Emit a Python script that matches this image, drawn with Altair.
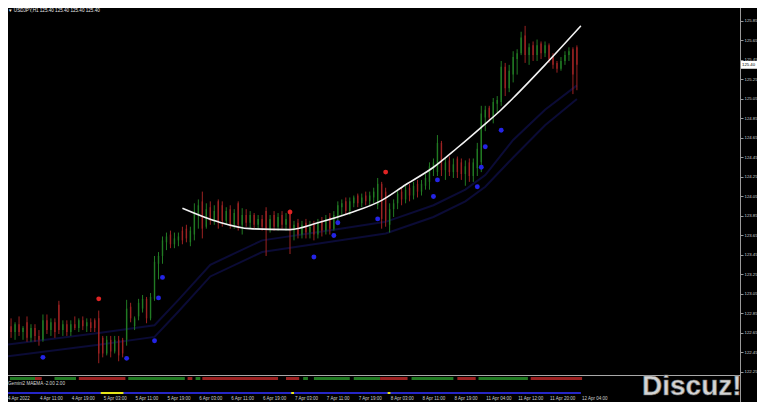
import altair as alt
import pandas as pd

# ---------------- data ----------------
OPEN = [122.68,122.72,122.66,122.74,122.66,122.76,122.60,122.70,122.62,122.58,
        122.78,122.68,122.76,122.94,122.68,122.74,122.66,122.74,122.70,122.78,
        122.72,122.76,122.78,122.80,122.60,122.44,122.58,122.46,122.58,122.58,
        122.58,122.92,122.72,122.82,122.90,123.00,122.80,123.00,123.36,123.44,
        123.58,123.66,123.56,123.60,123.70,123.72,123.58,123.66,123.86,124.00,
        123.74,123.94,123.80,124.00,123.96,123.80,123.92,123.76,123.98,123.76,
        123.86,123.78,123.86,123.76,123.82,123.90,123.72,123.86,123.74,123.86,
        123.76,123.90,123.70,123.78,123.66,123.78,123.68,123.76,123.66,123.80,
        123.70,123.84,123.72,123.84,123.94,124.00,123.90,123.98,124.06,123.98,
        124.06,124.00,124.04,123.96,124.18,124.10,123.76,123.92,123.98,124.10,
        124.02,124.14,124.06,124.18,124.10,124.16,124.20,124.34,124.30,124.60,
        124.32,124.42,124.30,124.44,124.40,124.28,124.40,124.26,124.34,124.40,
        124.86,124.96,124.86,125.00,125.02,125.38,125.16,125.30,125.46,125.52,
        125.70,125.50,125.60,125.50,125.62,125.52,125.60,125.48,125.42,125.36,
        125.44,125.50,125.56,125.58]
HIGH = [122.78,122.80,122.76,122.82,122.72,122.82,122.74,122.74,122.68,122.84,
        122.84,122.80,122.80,122.98,122.78,122.78,122.78,122.82,122.80,122.82,
        122.80,122.80,122.80,122.88,122.62,122.62,122.62,122.62,122.62,122.60,
        122.99,122.96,122.82,123.00,123.04,123.02,123.06,123.44,123.48,123.64,
        123.68,123.70,123.68,123.68,123.74,123.76,123.74,123.98,124.02,124.10,
        123.98,124.00,123.96,124.02,124.00,123.94,123.96,123.92,124.00,123.93,
        123.92,123.90,123.88,123.86,123.86,123.94,123.86,123.90,123.88,123.90,
        123.88,123.92,123.80,123.82,123.80,123.82,123.80,123.80,123.82,123.84,
        123.86,123.88,123.90,124.00,124.02,124.04,124.04,124.06,124.08,124.08,
        124.10,124.10,124.14,124.24,124.20,124.14,123.98,124.02,124.12,124.14,
        124.16,124.18,124.20,124.22,124.22,124.28,124.40,124.44,124.68,124.62,
        124.44,124.46,124.44,124.46,124.44,124.42,124.44,124.44,124.60,124.98,
        124.98,124.98,125.06,125.08,125.44,125.42,125.40,125.54,125.56,125.74,
        125.80,125.62,125.64,125.66,125.64,125.64,125.62,125.52,125.44,125.48,
        125.54,125.58,125.58,125.60]
LOW = [122.62,122.60,122.58,122.62,122.58,122.56,122.56,122.56,122.52,122.56,
       122.64,122.62,122.60,122.64,122.62,122.62,122.62,122.68,122.66,122.68,
       122.66,122.66,122.66,122.34,122.40,122.42,122.40,122.44,122.36,122.40,
       122.52,122.76,122.68,122.78,122.86,122.75,122.78,122.98,123.20,123.36,
       123.50,123.52,123.52,123.54,123.56,123.58,123.54,123.60,123.72,123.62,
       123.72,123.76,123.76,123.72,123.74,123.76,123.72,123.72,123.70,123.66,
       123.74,123.72,123.72,123.72,123.70,123.44,123.68,123.70,123.70,123.72,
       123.70,123.46,123.60,123.62,123.62,123.62,123.62,123.60,123.62,123.64,
       123.66,123.66,123.70,123.78,123.86,123.86,123.86,123.94,123.94,123.94,
       123.96,123.96,123.98,123.92,123.72,123.74,123.68,123.84,123.92,123.96,
       123.98,124.00,124.02,124.04,124.06,124.12,124.12,124.26,124.26,124.26,
       124.22,124.26,124.24,124.24,124.22,124.16,124.20,124.20,124.26,124.30,
       124.72,124.82,124.80,124.90,124.98,125.08,125.12,125.22,125.30,125.50,
       125.42,125.40,125.44,125.44,125.46,125.48,125.42,125.36,125.32,125.34,
       125.40,125.44,125.10,125.14]
CLOSE = [122.72,122.66,122.74,122.66,122.70,122.60,122.70,122.62,122.58,122.78,
         122.68,122.76,122.66,122.68,122.74,122.66,122.74,122.70,122.78,122.72,
         122.76,122.70,122.70,122.44,122.44,122.58,122.46,122.58,122.42,122.44,
         122.90,122.80,122.80,122.96,123.00,122.80,123.02,123.38,123.44,123.60,
         123.64,123.56,123.62,123.64,123.60,123.62,123.70,123.90,123.96,123.72,
         123.92,123.80,123.90,123.78,123.80,123.90,123.76,123.88,123.76,123.86,
         123.78,123.86,123.76,123.82,123.74,123.72,123.82,123.74,123.84,123.76,
         123.82,123.72,123.76,123.66,123.76,123.68,123.74,123.66,123.78,123.70,
         123.82,123.72,123.86,123.96,123.98,123.90,124.00,124.04,123.98,124.04,
         124.00,124.06,124.10,124.18,123.82,123.80,123.92,123.98,124.08,124.02,
         124.12,124.06,124.16,124.10,124.18,124.24,124.36,124.40,124.60,124.32,
         124.40,124.30,124.38,124.30,124.28,124.36,124.26,124.40,124.54,124.90,
         124.94,124.86,125.02,125.04,125.38,125.16,125.34,125.48,125.52,125.68,
         125.50,125.58,125.50,125.60,125.52,125.60,125.46,125.40,125.36,125.44,
         125.50,125.54,125.30,125.40]

BUY_IDX = [9, 30, 37, 38, 39, 77, 82, 83, 93, 107, 108, 118, 119, 120, 124]
BUY_PRICE = [122.40, 122.39, 122.57, 123.01, 123.22, 123.43, 123.65, 123.78,
             123.82, 124.05, 124.22, 124.15, 124.35, 124.56, 124.73]
SELL_IDX = [23, 71, 95]
SELL_PRICE = [123.00, 123.89, 124.30]

CURVE_IDX = [44, 53, 61, 71, 78, 86, 94, 100, 107, 113, 119, 124, 127, 135, 144]
CURVE_PRICE = [123.93, 123.79, 123.72, 123.71, 123.78, 123.88, 124.01, 124.17,
               124.35, 124.55, 124.76, 124.94, 125.06, 125.40, 125.80]

BAND_IDX = [0, 23, 37, 43, 51, 64, 82, 95, 107, 115, 120, 127, 135, 143]
BAND_UP = [122.53, 122.65, 122.73, 122.99, 123.35, 123.60, 123.71, 123.79,
           123.96, 124.12, 124.27, 124.63, 124.94, 125.19]
BAND_LO = [122.41, 122.53, 122.61, 122.87, 123.23, 123.48, 123.59, 123.67,
           123.84, 124.00, 124.15, 124.45, 124.78, 125.05]

SEG_START = [0.7, 7.0, 11.9, 18.0, 30.4, 45.3, 47.3, 49.0, 70.0, 74.3, 77.0, 87.0, 93.6, 101.5, 113.0, 118.3, 131.4]
SEG_END = [7.0, 8.7, 17.3, 29.7, 44.6, 46.5, 48.5, 68.0, 73.3, 75.5, 86.0, 93.6, 100.5, 112.0, 117.6, 130.7, 144.3]
SEG_DIR = ["up", "down", "up", "down", "up", "down", "up", "down", "down", "up", "up", "up",
           "down", "up", "down", "up", "down"]

YEL_START = [23.5, 71.3, 95.5]
YEL_END = [29.2, 72.0, 96.2]

TIME_IDX = list(range(0, 145, 8))
TIME_LABELS = ["4 Apr 2022", "4 Apr 11:00", "4 Apr 19:00", "5 Apr 03:00", "5 Apr 11:00",
               "5 Apr 19:00", "6 Apr 03:00", "6 Apr 11:00", "6 Apr 19:00", "7 Apr 03:00",
               "7 Apr 11:00", "7 Apr 19:00", "8 Apr 03:00", "8 Apr 11:00", "8 Apr 19:00",
               "11 Apr 04:00", "11 Apr 12:00", "11 Apr 20:00", "12 Apr 04:00"]

PRICE_TICKS = [122.25, 122.45, 122.65, 122.85, 123.05, 123.25, 123.45, 123.65, 123.85,
               124.05, 124.25, 124.45, 124.65, 124.85, 125.05, 125.25, 125.45, 125.65, 125.85]
LAST_PRICE = 125.40
TITLE = "\u25bc USDJPY,H1  125.40 125.40 125.40 125.40"
IND_LABEL = "Gemini2 MAEMA -2.00 2.00"

# ---------------- tables ----------------
candles = pd.DataFrame({"i": list(range(len(CLOSE))), "o": OPEN, "h": HIGH, "l": LOW, "c": CLOSE})
candles["dir"] = ["up" if c >= o else "down" for o, c in zip(OPEN, CLOSE)]
buys = pd.DataFrame({"i": BUY_IDX, "p": BUY_PRICE})
sells = pd.DataFrame({"i": SELL_IDX, "p": SELL_PRICE})
curve = pd.DataFrame({"i": CURVE_IDX, "p": CURVE_PRICE})
bands = pd.DataFrame({"i": BAND_IDX * 2, "p": BAND_UP + BAND_LO,
                      "b": ["up"] * len(BAND_IDX) + ["lo"] * len(BAND_IDX)})
segs = pd.DataFrame({"s": SEG_START, "e": SEG_END, "dir": SEG_DIR})
yel = pd.DataFrame({"s": YEL_START, "e": YEL_END})
times = pd.DataFrame({"i": TIME_IDX, "t": TIME_LABELS})
last = pd.DataFrame({"p": [LAST_PRICE], "t": [f"{LAST_PRICE:.2f}"],
                     "top": [LAST_PRICE + 0.04], "bot": [LAST_PRICE - 0.04]})
blue = pd.DataFrame({"s": [0], "e": [144]})

W, H = 732, 394
xscale = alt.Scale(domain=[1.485, 182.67], nice=False, zero=False)
yscale = alt.Scale(domain=[122.2192, 125.9833], range=[367, 0], nice=False, zero=False)
yaxis = alt.Axis(orient="right", values=PRICE_TICKS, format=".2f", title=None,
                 labelFontSize=4.3, labelColor="#cfcfcf", labelFont="Liberation Sans",
                 tickSize=3, tickColor="#9a9a9a", domainColor="#9a9a9a",
                 labelPadding=1, grid=False, labelBound=False, labelFlush=False)
dir_color = alt.Color("dir:N", scale=alt.Scale(domain=["up", "down"],
                                               range=["#217a23", "#9c2222"]), legend=None)


def X(f):
    return alt.X(f, type="quantitative", scale=xscale, axis=None)


def Y(f):
    return alt.Y(f, type="quantitative", scale=yscale, axis=yaxis)


band_layer = alt.Chart(bands).mark_line(strokeWidth=2, color="#0b0b36", clip=True).encode(
    x=X("i"), y=Y("p"), detail="b:N")
wicks = alt.Chart(candles).mark_rule(strokeWidth=1, clip=True).encode(
    x=X("i"), y=Y("l"), y2="h", color=dir_color)
bodies = alt.Chart(candles).mark_bar(size=1.4, clip=True).encode(
    x=X("i"), y=Y("o"), y2="c", color=dir_color)
curve_layer = alt.Chart(curve).mark_line(strokeWidth=1.6, color="#f2f2f2",
                                         interpolate="monotone", clip=True).encode(
    x=X("i"), y=Y("p"))
buy_layer = alt.Chart(buys).mark_circle(size=24, color="#2424e6", opacity=1).encode(
    x=X("i"), y=Y("p"))
sell_layer = alt.Chart(sells).mark_circle(size=24, color="#e02424", opacity=1).encode(
    x=X("i"), y=Y("p"))

sep = alt.Chart(blue).mark_rule(color="#a8a8a8", strokeWidth=1).encode(
    x=alt.value(0), x2=alt.value(W), y=alt.value(367.5))
vaxis = alt.Chart(blue).mark_rule(color="#9a9a9a", strokeWidth=1).encode(
    x=alt.value(W + 0.5), y=alt.value(0), y2=alt.value(H))
seg_layer = alt.Chart(segs).mark_rule(strokeWidth=3).encode(
    x=X("s"), x2="e", y=alt.value(370.5),
    color=alt.Color("dir:N", scale=alt.Scale(domain=["up", "down"],
                                             range=["#3cbc3c", "#b82a2a"]), legend=None))
blue_line = alt.Chart(blue).mark_rule(strokeWidth=2, color="#2626c8").encode(
    x=X("s"), x2="e", y=alt.value(385))
yel_layer = alt.Chart(yel).mark_rule(strokeWidth=2, color="#e6e619").encode(
    x=X("s"), x2="e", y=alt.value(385))
time_layer = alt.Chart(times).mark_text(align="left", baseline="middle", fontSize=4.5,
                                        font="Liberation Sans", color="#cfcfcf", dx=1).encode(
    x=X("i"), y=alt.value(390.5), text="t:N")
box = alt.Chart(last).mark_rect(color="#ffffff").encode(
    x=alt.value(W + 1), x2=alt.value(W + 17), y=Y("top"), y2="bot")
box_text = alt.Chart(last).mark_text(align="left", baseline="middle", fontSize=4.3,
                                     font="Liberation Sans", color="#000000").encode(
    x=alt.value(W + 2), y=Y("p"), text="t:N")
title_layer = alt.Chart(last).mark_text(align="left", baseline="middle", fontSize=4.6,
                                        font="Liberation Sans", color="#e8e8e8").encode(
    x=alt.value(0), y=alt.value(2.5), text=alt.value(TITLE))
ind_text = alt.Chart(last).mark_text(align="left", baseline="middle", fontSize=4.6,
                                     font="Liberation Sans", color="#d8d8d8").encode(
    x=alt.value(0), y=alt.value(376), text=alt.value(IND_LABEL))
wm = alt.Chart(last).mark_text(align="left", baseline="alphabetic", fontSize=28,
                               font="Liberation Sans", fontWeight="bold",
                               color="#d4d4d4", stroke="#6a6a6a", strokeWidth=0.6).encode(
    x=alt.value(634), y=alt.value(387), text=alt.value("Discuz!"))

chart = alt.layer(
    band_layer, wicks, bodies, curve_layer, buy_layer, sell_layer,
    sep, vaxis, seg_layer, blue_line, yel_layer, time_layer,
    box, box_text, title_layer, ind_text, wm
).properties(
    width=W, height=H,
    background="#000000",
    padding={"left": 0, "top": 0, "right": 17, "bottom": 0},
    autosize=alt.AutoSizeParams(type="none"),
).configure_view(stroke=None)

chart.save("out.html", embed_options={"renderer": "svg", "actions": False})
